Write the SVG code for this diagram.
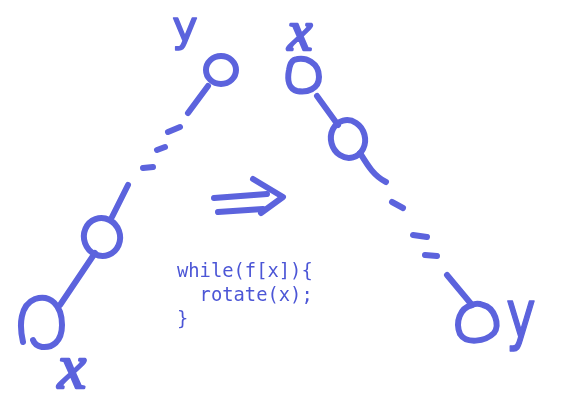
<svg xmlns="http://www.w3.org/2000/svg" width="576" height="403" viewBox="0 0 576 403">
<defs>
<filter id="soft" filterUnits="userSpaceOnUse" x="0" y="0" width="576" height="403"><feGaussianBlur stdDeviation="0.7"/></filter>
</defs>
<style>
.s{fill:none;stroke:#5b63dd;stroke-width:6;stroke-linecap:round;stroke-linejoin:round}
.lbl{fill:#5b63dd;stroke:#5b63dd;stroke-linejoin:round;stroke-linecap:round;text-anchor:middle}
.lx{font-family:"Liberation Serif",serif;font-style:italic;stroke-width:2.5}
.ly{font-family:"DejaVu Sans",sans-serif;stroke-width:1.5}
.code{font-family:"DejaVu Sans Mono","Liberation Mono",monospace;font-size:18.8px;fill:#4c56d6}
</style>
<rect width="576" height="403" fill="#ffffff"/>
<g filter="url(#soft)">
<g id="connectors">
<path class="s" d="M208,86 L188,113"/>
<path class="s" d="M168,132 L180,127"/>
<path class="s" d="M157,150 L165,147"/>
<path class="s" d="M143,168 L153,167"/>
<path class="s" d="M128,185 L112,217"/>
<path class="s" d="M95,253 L60,305"/>
<path class="s" d="M317,96 L338,125"/>
<path class="s" d="M360,153 C368,166 374,176 386,182"/>
<path class="s" d="M392,202 L403,208"/>
<path class="s" d="M413,235 L427,237"/>
<path class="s" d="M425,255 L437,256"/>
<path class="s" d="M447,275 L472,305"/>
</g>
<g id="arrow">
<path class="s" d="M214,198 L267,194"/>
<path class="s" d="M218,212 L263,209"/>
<path class="s" d="M253,179 L283,197 L261,213"/>
</g>
<g id="left-top">
<ellipse class="s" cx="221" cy="70" rx="15" ry="14"/>
<text class="lbl ly" x="185" y="41" font-size="43">y</text>
</g>
<g id="left-mid">
<ellipse class="s" cx="102" cy="237" rx="18" ry="19" transform="rotate(-20 102 237)"/>
</g>
<g id="left-bottom">
<path class="s" d="M23,342 C19,325 20,305 35,299 C50,294 62,305 62,325 C62,342 52,348 42,347 C37,346 34,343 33,340"/>
<text class="lbl lx" x="72" y="388" font-size="64">x</text>
</g>
<g id="right-top">
<path class="s" d="M294,60 C306,56 319,63 319,77 C319,89 307,93 297,91 C289,89 287,80 289,70 C290,64 292,61 294,60"/>
<text class="lbl lx" x="300" y="50" font-size="56">x</text>
</g>
<g id="right-mid">
<ellipse class="s" cx="348" cy="139" rx="17" ry="19" transform="rotate(-15 348 139)"/>
</g>
<g id="right-bottom">
<path class="s" d="M472,305 C460,308 455,322 460,334 C466,344 485,342 494,333 C500,325 495,308 483,305 C478,303 474,304 472,305"/>
<text class="lbl ly" x="0" y="0" font-size="62" transform="translate(521,337) scale(0.8,1.05)">y</text>
</g>
</g>
<g id="code">
<text class="code" x="177" y="277">while(f[x]){</text>
<text class="code" x="177" y="301" xml:space="preserve">  rotate(x);</text>
<text class="code" x="177" y="325">}</text>
</g>
</svg>
